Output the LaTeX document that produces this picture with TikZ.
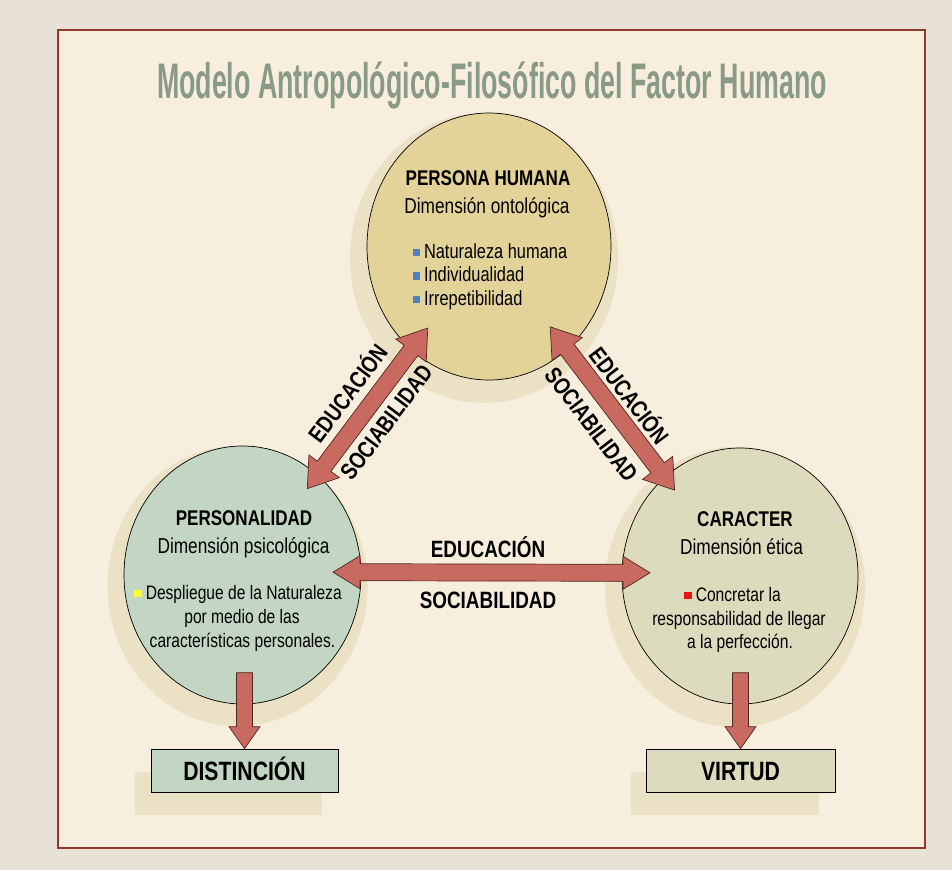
\documentclass[tikz,border=0pt]{standalone}
\usepackage{fontspec}
\setmainfont{Liberation Sans}[FakeStretch=0.8]
\usetikzlibrary{calc,shapes.geometric}
\definecolor{outerbg}{HTML}{E8E2D6}
\definecolor{panelbg}{HTML}{F7EEDD}
\definecolor{panelline}{HTML}{8E3A2C}
\definecolor{shadowc}{HTML}{EBE1C4}
\definecolor{topfill}{HTML}{E3D398}
\definecolor{leftfill}{HTML}{C2D6C3}
\definecolor{rightfill}{HTML}{DCDBBD}
\definecolor{arrowfill}{HTML}{C86A5F}
\definecolor{arrowline}{HTML}{50261F}
\definecolor{titlecol}{HTML}{8A9A88}
\definecolor{bulblue}{HTML}{4F81BD}
\definecolor{bulyellow}{HTML}{FFFF33}
\definecolor{bulred}{HTML}{EE1111}
\newcommand{\bulsq}[1]{\textcolor{#1}{\rule[2pt]{7.5pt}{7.5pt}}\hspace{4pt}}
% double block arrow: tips #1 and #2, head length #3, head half width #4, shaft half width #5
\newcommand{\dblarrow}[5]{%
\filldraw[arrowst] (#1) -- ($(#1)!#3!(#2)!#4!90:(#2)$) -- ($(#1)!#3!(#2)!#5!90:(#2)$)
 -- ($(#2)!#3!(#1)!#5!-90:(#1)$) -- ($(#2)!#3!(#1)!#4!-90:(#1)$) -- (#2)
 -- ($(#2)!#3!(#1)!#4!90:(#1)$) -- ($(#2)!#3!(#1)!#5!90:(#1)$)
 -- ($(#1)!#3!(#2)!#5!-90:(#2)$) -- ($(#1)!#3!(#2)!#4!-90:(#2)$) -- cycle;}
% single block arrow from #1 to tip #2
\newcommand{\sglarrow}[5]{%
\filldraw[arrowst] ($(#1)!#5!90:(#2)$) -- ($(#2)!#3!(#1)!#5!-90:(#1)$) -- ($(#2)!#3!(#1)!#4!-90:(#1)$) -- (#2)
 -- ($(#2)!#3!(#1)!#4!90:(#1)$) -- ($(#2)!#3!(#1)!#5!90:(#1)$) -- ($(#1)!#5!-90:(#2)$) -- cycle;}
\begin{document}
\begin{tikzpicture}[x=1pt,y=-1pt,
  bub/.style={ellipse, draw=black, line width=0.7pt, inner sep=0pt},
  boxst/.style={draw=black, line width=0.7pt, inner sep=0pt, text height=19pt, text depth=0pt,
    font=\bfseries\fontsize{26.5}{30}\selectfont},
  arrowst/.style={fill=arrowfill, draw=arrowline, line width=0.7pt, line join=miter},
  head/.style={font=\bfseries\fontsize{21.3}{25}\selectfont, anchor=base},
  dim/.style={font=\fontsize{21.6}{25}\selectfont, anchor=base},
  body/.style={font=\fontsize{19.5}{23}\selectfont, anchor=base},
  topbody/.style={font=\fontsize{20.5}{24}\selectfont, anchor=base west},
  lab/.style={font=\bfseries\fontsize{23.6}{27}\selectfont, inner sep=0pt}]
\useasboundingbox (0,0) rectangle (952,870);
\fill[outerbg] (0,0) rectangle (952,870);
\draw[panelline, fill=panelbg, line width=2pt] (58,30) rectangle (925,848);
% title
\node[anchor=base, text=titlecol, font=\bfseries\fontsize{50}{54}\selectfont] (title) at (492,98)
  {\scalebox{0.67}[1]{Modelo Antropológico-Filosófico del Factor Humano}};
% shadows
\fill[shadowc] (484,258) ellipse [x radius=134pt, y radius=145pt];
\fill[shadowc] (237.5,586) ellipse [x radius=130pt, y radius=140pt];
\fill[shadowc] (735,587) ellipse [x radius=130pt, y radius=140pt];
\fill[shadowc] (135,772) rectangle (322,815);
\fill[shadowc] (631,772) rectangle (819,815);
% ellipses
\node[bub, fill=topfill, minimum width=244pt, minimum height=267pt] (top) at (489,246.5) {};
\node[bub, fill=leftfill, minimum width=237pt, minimum height=258pt] (pers) at (242.5,575) {};
\node[bub, fill=rightfill, minimum width=236pt, minimum height=256pt] (car) at (740,576) {};
% boxes
\node[boxst, fill=leftfill, minimum width=187pt, minimum height=43pt] (dist) at (244.5,770.5) {DISTINCIÓN};
\node[boxst, fill=rightfill, minimum width=189pt, minimum height=43pt] (virt) at (740.5,770.5) {VIRTUD};
% texts top
\node[head] (t1) at (488,185) {PERSONA HUMANA};
\node[dim] (t2) at (487,213) {Dimensión ontológica};
\node[topbody] (t3) at (409,258) {\bulsq{bulblue}Naturaleza humana};
\node[topbody] (t4) at (409,281.5) {\bulsq{bulblue}Individualidad};
\node[topbody] (t5) at (409,305) {\bulsq{bulblue}Irrepetibilidad};
% texts left
\node[head] (l1) at (244,525) {PERSONALIDAD};
\node[dim] (l2) at (243.5,553) {Dimensión psicológica};
\node[body] (l3) at (238,599) {\bulsq{bulyellow}Despliegue de la Naturaleza};
\node[body] (l4) at (242,623) {por medio de las};
\node[body] (l5) at (242.5,647) {características personales.};
% texts right
\node[head] (r1) at (745,526) {CARACTER};
\node[dim] (r2) at (741.5,554) {Dimensión ética};
\node[body] (r3) at (732.5,601) {\bulsq{bulred}Concretar la};
\node[body] (r4) at (739,625) {responsabilidad de llegar};
\node[body] (r5) at (740,648) {a la perfección.};
% arrow tips
\coordinate (dlT) at ($(top.center)!102pt!(pers.center)$);
\coordinate (dlB) at ($(pers.center)!108pt!(top.center)$);
\coordinate (drT) at ($(top.center)!101pt!(car.center)$);
\coordinate (drB) at ($(car.center)!108pt!(top.center)$);
\coordinate (hL) at ($(pers.center)!90.5pt!(car.center)+(0,-3)$);
\coordinate (hR) at ($(car.center)!90pt!(pers.center)+(0,-3)$);
\coordinate (vLs) at ($(dist.north)+(0,-76)$);
\coordinate (vRs) at ($(virt.north)+(0,-76)$);
\dblarrow{dlB}{dlT}{28pt}{19pt}{8.5pt}
\dblarrow{drT}{drB}{28pt}{19pt}{8.5pt}
\dblarrow{hL}{hR}{27pt}{16.5pt}{8.5pt}
\sglarrow{vLs}{dist.north}{22pt}{15.5pt}{8pt}
\sglarrow{vRs}{virt.north}{22pt}{15.5pt}{8pt}
% labels
\path (dlB) -- (dlT) node[lab, midway, sloped, above=16pt] (eL) {EDUCACIÓN}
                     node[lab, midway, sloped, below=15pt] (sL) {SOCIABILIDAD};
\path (drT) -- (drB) node[lab, midway, sloped, above=12pt] (eR) {EDUCACIÓN}
                     node[lab, midway, sloped, below=18pt] (sR) {SOCIABILIDAD};
\node[lab, anchor=base] (eH) at (488,557) {EDUCACIÓN};
\node[lab, anchor=base] (sH) at (488,608) {SOCIABILIDAD};
\end{tikzpicture}
\end{document}
